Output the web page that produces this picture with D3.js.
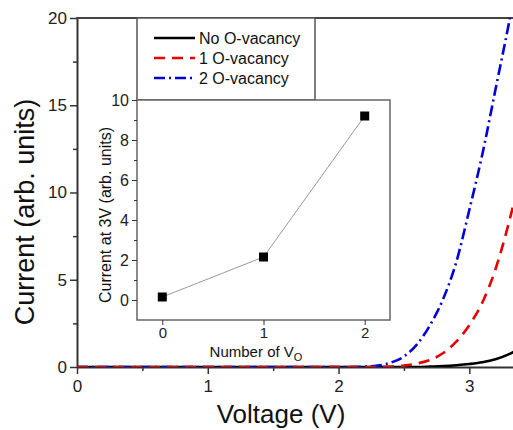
<!DOCTYPE html>
<html>
<head>
<meta charset="utf-8">
<script src="https://cdn.jsdelivr.net/npm/d3@7"></script>
<style>
  body { margin: 0; background: #fff; }
  svg { display: block; font-family: "Liberation Sans", Arial, sans-serif; }
  .axis path, .axis line { stroke: #333; }
  .axis text { fill: #222; }
</style>
</head>
<body>
<div id="chart"></div>
<script>
// I-V curves
var voltage       = [0, 0.5, 1.0, 1.5, 2.0, 2.2, 2.3, 2.4, 2.5, 2.6, 2.7, 2.8, 2.9, 3.0, 3.1, 3.2, 3.3, 3.36];
var currentNoVac  = [0, 0, 0, 0, 0, 0, 0, 0, 0, 0, 0.02, 0.05, 0.1, 0.17, 0.27, 0.44, 0.72, 0.95];
var current1Vac   = [0, 0, 0, 0, 0, 0, 0, 0.03, 0.08, 0.2, 0.4, 0.8, 1.45, 2.4, 3.7, 5.6, 8.2, 10.0];
var current2Vac   = [0, 0, 0, 0, 0, 0.02, 0.08, 0.25, 0.6, 1.3, 2.4, 3.9, 6.0, 9.0, 12.2, 15.9, 19.6, 22.0];
var legendLabels  = ["No O-vacancy", "1 O-vacancy", "2 O-vacancy"];

// inset: current at 3V vs number of vacancies
var insetVacancies = [0, 1, 2];
var insetCurrent   = [0.15, 2.15, 9.2];

var xTicks = [0, 1, 2, 3];
var xMinorTicks = [0.5, 1.5, 2.5];
var yTicks = [0, 5, 10, 15, 20];
var yMinorTicks = [2.5, 7.5, 12.5, 17.5];
var insetXTicks = [0, 1, 2];
var insetYTicks = [0, 2, 4, 6, 8, 10];
var insetYMinorTicks = [1, 3, 5, 7, 9];

var svgWidth = 513;
var svgHeight = 430;
var fmt = d3.format("d");

var svg = d3.select("#chart")
  .append("svg")
  .attr("width", svgWidth)
  .attr("height", svgHeight);

var xScale = d3.scaleLinear().domain([0, 3.4]).range([77, 77 + 3.4 * 130.77]);
var yScale = d3.scaleLinear().domain([0, 20]).range([367, 18]);

// clip for curves
svg.append("clipPath").attr("id", "plotClip")
  .append("rect")
  .attr("x", 77).attr("y", 18)
  .attr("width", svgWidth - 77).attr("height", 367 - 18);

// minor ticks
svg.append("g")
  .attr("class", "axis")
  .attr("transform", "translate(0,367)")
  .call(d3.axisBottom(xScale).tickValues(xMinorTicks).tickSize(4).tickFormat(""))
  .call(g => g.select(".domain").remove())
  .selectAll("line").attr("stroke-width", 1.5);

svg.append("g")
  .attr("class", "axis")
  .attr("transform", "translate(77,0)")
  .call(d3.axisLeft(yScale).tickValues(yMinorTicks).tickSize(4).tickFormat(""))
  .call(g => g.select(".domain").remove())
  .selectAll("line").attr("stroke-width", 1.5);

// major axes
var xAxis = svg.append("g")
  .attr("class", "axis")
  .attr("transform", "translate(0,367)")
  .call(d3.axisBottom(xScale).tickValues(xTicks).tickFormat(fmt).tickSize(7).tickSizeOuter(0).tickPadding(6));
xAxis.select(".domain").attr("stroke-width", 2);
xAxis.selectAll("line").attr("stroke-width", 1.5);
xAxis.selectAll("text").style("font-size", "17px");

var yAxis = svg.append("g")
  .attr("class", "axis")
  .attr("transform", "translate(77,0)")
  .call(d3.axisLeft(yScale).tickValues(yTicks).tickFormat(fmt).tickSize(7).tickSizeOuter(0).tickPadding(3));
yAxis.select(".domain").attr("stroke-width", 2);
yAxis.selectAll("line").attr("stroke-width", 1.5);
yAxis.selectAll("text").style("font-size", "17px");

// top frame line
svg.append("line")
  .attr("x1", 76).attr("x2", svgWidth)
  .attr("y1", 18).attr("y2", 18)
  .attr("stroke", "#444")
  .attr("stroke-width", 2);

// axis titles
svg.append("text")
  .attr("x", 281).attr("y", 423)
  .attr("text-anchor", "middle")
  .style("font-size", "26px")
  .attr("fill", "#111")
  .text("Voltage (V)");

svg.append("text")
  .attr("transform", "translate(34,212) rotate(-90)")
  .attr("text-anchor", "middle")
  .style("font-size", "27px")
  .attr("fill", "#111")
  .text("Current (arb. units)");

// curves
var series = [
  { values: currentNoVac, color: "#000", dash: null },
  { values: current2Vac, color: "#0000d8", dash: "11,4,2,4" },
  { values: current1Vac, color: "#e60000", dash: "11,7" }
];

var line = d3.line()
  .x(d => xScale(d[0]))
  .y(d => yScale(d[1]))
  .curve(d3.curveMonotoneX);

var curves = svg.append("g").attr("clip-path", "url(#plotClip)");
series.forEach(function(s) {
  curves.append("path")
    .datum(voltage.map((v, i) => [v, s.values[i]]))
    .attr("d", line)
    .attr("fill", "none")
    .attr("stroke", s.color)
    .attr("stroke-width", 2.6)
    .attr("stroke-dasharray", s.dash);
});

// legend
var legendColors = ["#000", "#e60000", "#0000d8"];
var legendDash = [null, "11,7", "11,4,2,4"];
svg.append("rect")
  .attr("x", 137).attr("y", 18)
  .attr("width", 178).attr("height", 82)
  .attr("fill", "#fff")
  .attr("stroke", "#555")
  .attr("stroke-width", 1.5);

legendLabels.forEach(function(label, i) {
  var ly = 38 + i * 20;
  svg.append("line")
    .attr("x1", 154).attr("x2", 195)
    .attr("y1", ly).attr("y2", ly)
    .attr("stroke", legendColors[i])
    .attr("stroke-width", 2.6)
    .attr("stroke-dasharray", legendDash[i]);
  svg.append("text")
    .attr("x", 199).attr("y", ly + 6)
    .style("font-size", "16px")
    .attr("fill", "#111")
    .text(label);
});

// inset
var insetX = d3.scaleLinear().domain([-0.25, 2.25]).range([137, 390]);
var insetY = d3.scaleLinear().domain([-1, 10]).range([320, 100]);

svg.append("rect")
  .attr("x", 137).attr("y", 100)
  .attr("width", 253).attr("height", 220)
  .attr("fill", "#fff")
  .attr("stroke", "#666")
  .attr("stroke-width", 1.5);

svg.append("g")
  .attr("class", "axis")
  .attr("transform", "translate(137,0)")
  .call(d3.axisLeft(insetY).tickValues(insetYMinorTicks).tickSize(3).tickFormat(""))
  .call(g => g.select(".domain").remove())
  .selectAll("line").attr("stroke", "#666");

var insetYAxis = svg.append("g")
  .attr("class", "axis")
  .attr("transform", "translate(137,0)")
  .call(d3.axisLeft(insetY).tickValues(insetYTicks).tickFormat(fmt).tickSize(5).tickSizeOuter(0).tickPadding(3));
insetYAxis.select(".domain").remove();
insetYAxis.selectAll("line").attr("stroke", "#666");
insetYAxis.selectAll("text").style("font-size", "16px");

var insetXAxis = svg.append("g")
  .attr("class", "axis")
  .attr("transform", "translate(0,320)")
  .call(d3.axisBottom(insetX).tickValues(insetXTicks).tickFormat(fmt).tickSize(5).tickSizeOuter(0).tickPadding(2));
insetXAxis.select(".domain").remove();
insetXAxis.selectAll("line").attr("stroke", "#666");
insetXAxis.selectAll("text").style("font-size", "15px");

svg.append("text")
  .attr("transform", "translate(111,215) rotate(-90)")
  .attr("text-anchor", "middle")
  .style("font-size", "16px")
  .attr("fill", "#111")
  .text("Current at 3V (arb. units)");

var nLabel = svg.append("text")
  .attr("x", 256).attr("y", 357)
  .attr("text-anchor", "middle")
  .style("font-size", "15px")
  .attr("fill", "#111")
  .text("Number of V");
nLabel.append("tspan")
  .attr("dy", 4)
  .style("font-size", "11px")
  .text("O");

var insetPts = insetVacancies.map((v, i) => [v, insetCurrent[i]]);
svg.append("path")
  .datum(insetPts)
  .attr("d", d3.line().x(d => insetX(d[0])).y(d => insetY(d[1])))
  .attr("fill", "none")
  .attr("stroke", "#999")
  .attr("stroke-width", 1);

svg.selectAll(".insetMark")
  .data(insetPts)
  .enter()
  .append("rect")
  .attr("class", "insetMark")
  .attr("x", d => insetX(d[0]) - 4.5)
  .attr("y", d => insetY(d[1]) - 4.5)
  .attr("width", 9)
  .attr("height", 9)
  .attr("fill", "#000");
</script>
</body>
</html>
